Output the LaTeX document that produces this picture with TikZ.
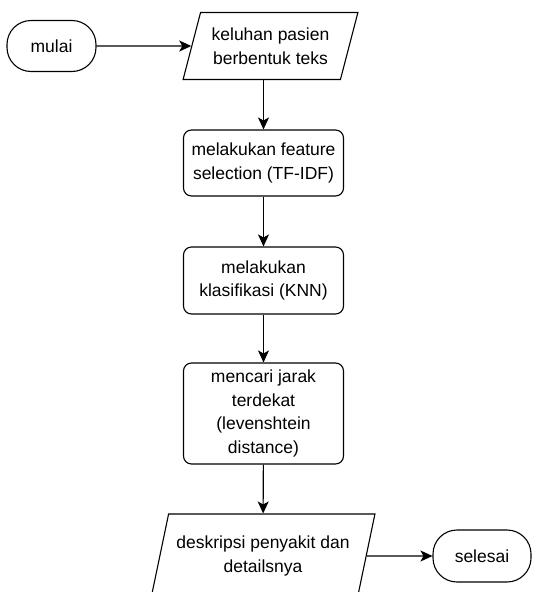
\documentclass[tikz,border=0pt]{standalone}
\usepackage{fontspec}
\setmainfont{Liberation Sans}
\usetikzlibrary{shapes.geometric,arrows.meta}
\tikzset{start node/.style={rectangle,draw,rounded corners=24pt,minimum width=89pt,minimum height=51pt,inner sep=0pt},
         io node/.style={trapezium,draw,trapezium left angle=68,trapezium right angle=112,trapezium stretches=true,inner sep=0pt,align=center},
         proc node/.style={rectangle,draw,rounded corners=8pt,minimum width=160pt,inner sep=0pt,align=center},
         flow/.style={-{Stealth[length=12pt,width=11pt,inset=3pt]}}
}

\begin{document}
\begin{tikzpicture}[x=1pt,y=-1pt,
line width=1.1pt,
font=\fontsize{17.5pt}{23.5pt}\selectfont]
\useasboundingbox (0,0) rectangle (535,592);

\node [start node] (mulai) at (51.5,46) {mulai};
\node [io node,minimum width=175pt,minimum height=67pt] (keluhan) at (270.5,46) {keluhan pasien\\berbentuk teks};
\node [proc node,minimum height=66pt] (tfidf) at (263.5,163) {melakukan feature\\selection (TF-IDF)};
\node [proc node,minimum height=67pt] (knn) at (263.5,280.5) {melakukan\\klasifikasi (KNN)};
\node [proc node,minimum height=101pt] (jarak) at (263.5,413.5) {mencari jarak\\terdekat\\(levenshtein\\distance)};
\node [io node,minimum width=224pt,minimum height=84pt] (deskripsi) at (263,556) {deskripsi penyakit dan\\detailsnya};
\node [start node,minimum width=98pt,minimum height=52pt] (selesai) at (482,556) {selesai};

\draw [flow] (mulai) -- (keluhan);
\draw [flow] (tfidf.north |- keluhan.south) -- (tfidf);
\draw [flow] (tfidf) -- (knn);
\draw [flow] (knn) -- (jarak);
\draw [flow] (jarak) -- (deskripsi);
\draw [flow] (deskripsi) -- (selesai);
\end{tikzpicture}
\end{document}
